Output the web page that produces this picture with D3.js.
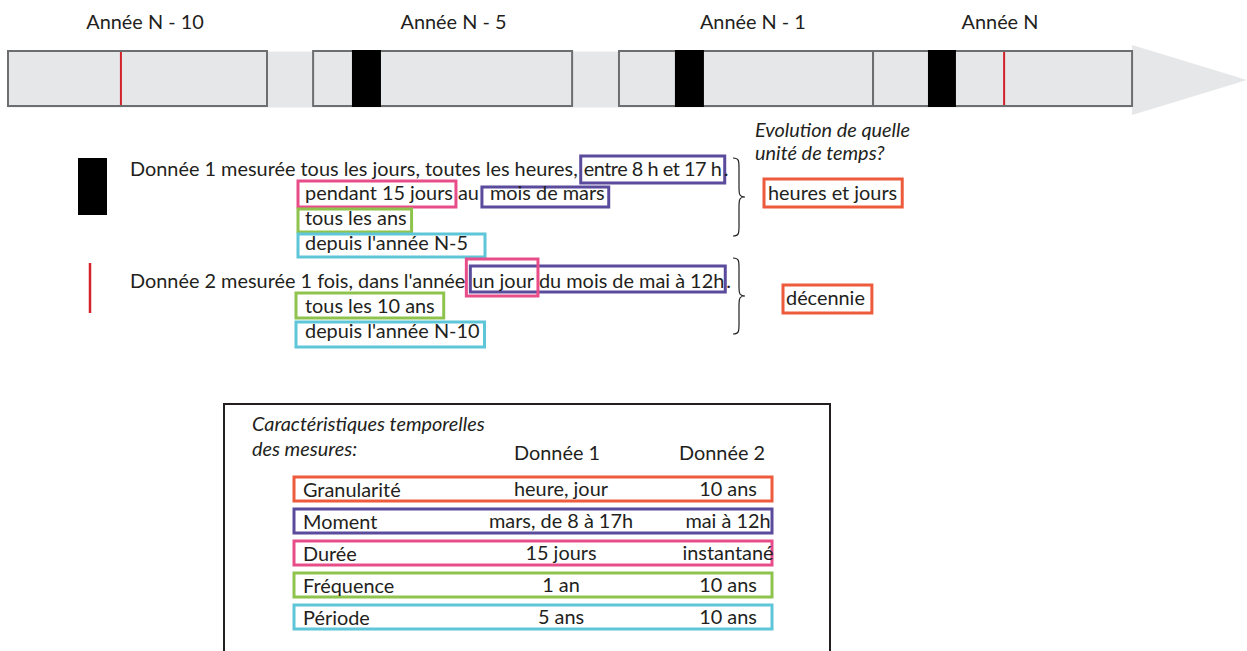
<!DOCTYPE html>
<html>
<head>
<meta charset="utf-8">
<script src="https://cdn.jsdelivr.net/npm/d3@7"></script>
<style>
  body { margin: 0; background: #fff; }
  text { font-family: Lato, "Noto Sans", sans-serif; fill: #231f20; }
</style>
</head>
<body>
<script>
const W = 1247, H = 651;

// timeline, one unit = one year box
const yearLabels = ["Année N - 10", "Année N - 5", "Année N - 1", "Année N"];
const yearStart = [0, 1.178, 2.359, 3.340];
const yearEnd = [1, 2.178, 3.340, 4.340];
const labelPos = [0.529, 1.720, 2.876, 3.830];
const d1Start = [1.328, 2.575, 3.552];   // Donnée 1 (black marks)
const d1End = [1.440, 2.687, 3.660];
const d2Pos = [0.436, 3.846];            // Donnée 2 (red marks)
const arrowTip = 4.784;

// table
const rowLabels = ["Granularité", "Moment", "Durée", "Fréquence", "Période"];
const donnee1 = ["heure, jour", "mars, de 8 à 17h", "15 jours", "1 an", "5 ans"];
const donnee2 = ["10 ans", "mai à 12h", "instantané", "10 ans", "10 ans"];

const col = {
  orange: "#ee5a3c", purple: "#5b4b9c", pink: "#e84d8a",
  green: "#8ec44d", cyan: "#5fc5d8"
};
const rowColors = [col.orange, col.purple, col.pink, col.green, col.cyan];

const svg = d3.select("body").append("svg")
  .attr("width", W).attr("height", H);

// font size fitted so the first sentence is as wide as in the picture
const probe = svg.append("text").style("font-size", "20px")
  .text("Donnée 1 mesurée tous les jours, toutes les heures,");
const fs = 20 * 448 / probe.node().getComputedTextLength();
probe.remove();

// ---- timeline
const x = d3.scaleLinear().domain([0, 1]).range([8, 267]);
const bandY0 = 51.5, bandY1 = 107.5, boxY0 = 51, boxY1 = 106;

svg.append("rect")
  .attr("x", x(0)).attr("y", bandY0)
  .attr("width", x(yearEnd[3]) - x(0)).attr("height", bandY1 - bandY0)
  .attr("fill", "#e6e7e8");
svg.append("path")
  .attr("d", d3.line()([[x(yearEnd[3]), 45], [x(arrowTip), 80], [x(yearEnd[3]), 115]]))
  .attr("fill", "#e6e7e8");

svg.selectAll(".year").data(yearLabels).join("rect")
  .attr("x", (d, i) => x(yearStart[i]))
  .attr("y", boxY0)
  .attr("width", (d, i) => x(yearEnd[i]) - x(yearStart[i]))
  .attr("height", boxY1 - boxY0)
  .attr("fill", "#e6e7e8").attr("stroke", "#6d6e70").attr("stroke-width", 2);

svg.selectAll(".ylab").data(yearLabels).join("text")
  .attr("x", (d, i) => x(labelPos[i])).attr("y", 29)
  .attr("text-anchor", "middle").style("font-size", fs + "px")
  .text(d => d);

svg.selectAll(".d1").data(d1Start).join("rect")
  .attr("x", d => x(d)).attr("y", boxY0 - 1)
  .attr("width", (d, i) => x(d1End[i]) - x(d))
  .attr("height", boxY1 - boxY0 + 2)
  .attr("fill", "#000");

svg.selectAll(".d2").data(d2Pos).join("line")
  .attr("x1", d => x(d)).attr("x2", d => x(d))
  .attr("y1", boxY0 + 1).attr("y2", boxY1 - 1)
  .attr("stroke", "#d2232a").attr("stroke-width", 2);

// ---- legend marks
svg.append("rect").attr("x", 78).attr("y", 158).attr("width", 29).attr("height", 57)
  .attr("fill", "#000");
svg.append("line").attr("x1", 90).attr("x2", 90).attr("y1", 263).attr("y2", 313)
  .attr("stroke", "#d2232a").attr("stroke-width", 2.5);

// ---- sentences with coloured boxes
const lines = [
  { x: 130, y: 176, segs: ["Donnée 1 mesurée tous les jours, toutes les heures,", "entre 8 h et 17 h", "."],
    gaps: [0, 6, 2], fit: [null, 138, null],
    boxes: [{ s: 1, e: 1, c: col.purple, l: 3, r: 3, t: 20, b: 7 }] },
  { x: 305, y: 200, segs: ["pendant 15 jours", "au", "mois de mars"],
    gaps: [0, 5, 11],
    boxes: [{ s: 0, e: 0, c: col.pink, l: 7, r: 3, t: 19, b: 7 },
            { s: 2, e: 2, c: col.purple, l: 8, r: 4, t: 13, b: 7 }] },
  { x: 305, y: 225, segs: ["tous les ans"], gaps: [0],
    boxes: [{ s: 0, e: 0, c: col.green, l: 7, r: 5, t: 16, b: 7 }] },
  { x: 305, y: 250, segs: ["depuis l'année N-5"], gaps: [0],
    boxes: [{ s: 0, e: 0, c: col.cyan, l: 7, r: 17, t: 16, b: 7 }] },
  { x: 130, y: 288, segs: ["Donnée 2 mesurée 1 fois, dans l'année", "un jour", "du mois de mai à 12h", "."],
    gaps: [0, 7, 5, 2],
    boxes: [{ s: 1, e: 2, c: col.purple, l: 2, r: 1, t: 22, b: 4 },
            { s: 1, e: 1, c: col.pink, l: 6, r: 4, t: 29, b: 8 }] },
  { x: 305, y: 313, segs: ["tous les 10 ans"], gaps: [0],
    boxes: [{ s: 0, e: 0, c: col.green, l: 9, r: 9, t: 20, b: 5 }] },
  { x: 305, y: 338, segs: ["depuis l'année N-10"], gaps: [0],
    boxes: [{ s: 0, e: 0, c: col.cyan, l: 9, r: 5, t: 16, b: 9 }] },
  { x: 768, y: 200, segs: ["heures et jours"], gaps: [0],
    boxes: [{ s: 0, e: 0, c: col.orange, l: 4, r: 5, t: 21, b: 7 }] },
  { x: 786, y: 305, segs: ["décennie"], gaps: [0],
    boxes: [{ s: 0, e: 0, c: col.orange, l: 3, r: 7, t: 20, b: 8 }] }
];

const boxLayer = svg.append("g");
const textLayer = svg.append("g").style("font-size", fs + "px");

lines.forEach(line => {
  let cx = line.x;
  const pos = line.segs.map((s, i) => {
    cx += line.gaps[i];
    const t = textLayer.append("text").attr("x", cx).attr("y", line.y).text(s);
    const target = line.fit && line.fit[i];
    if (target) t.attr("textLength", target).attr("lengthAdjust", "spacing");
    const w = target || t.node().getComputedTextLength();
    const p = [cx, cx + w];
    cx += w;
    return p;
  });
  line.boxes.forEach(b => {
    const x0 = pos[b.s][0] - b.l, x1 = pos[b.e][1] + b.r;
    boxLayer.append("rect")
      .attr("x", x0).attr("y", line.y - b.t)
      .attr("width", x1 - x0).attr("height", b.t + b.b)
      .attr("fill", "none").attr("stroke", b.c).attr("stroke-width", 3);
  });
});

// braces
function brace(bx, y0, y1, w) {
  const m = (y0 + y1) / 2, h = bx + w / 2;
  return `M${bx},${y0} C${h},${y0} ${h},${y0 + 3} ${h},${y0 + 10} L${h},${m - 8}` +
    ` C${h},${m - 2} ${h + 1},${m} ${bx + w},${m} C${h + 1},${m} ${h},${m + 2} ${h},${m + 8}` +
    ` L${h},${y1 - 10} C${h},${y1 - 3} ${h},${y1} ${bx},${y1}`;
}
svg.append("path").attr("d", brace(733, 158, 236, 12))
  .attr("fill", "none").attr("stroke", "#231f20").attr("stroke-width", 1.2);
svg.append("path").attr("d", brace(733, 258, 334, 12))
  .attr("fill", "none").attr("stroke", "#231f20").attr("stroke-width", 1.2);

// question
svg.append("text").attr("x", 755).attr("y", 137).style("font-size", fs + "px")
  .style("font-style", "italic").text("Evolution de quelle");
svg.append("text").attr("x", 755).attr("y", 160).style("font-size", fs + "px")
  .style("font-style", "italic").text("unité de temps?");

// ---- table
svg.append("rect").attr("x", 224).attr("y", 404).attr("width", 606).attr("height", 260)
  .attr("fill", "none").attr("stroke", "#231f20").attr("stroke-width", 2);
svg.append("text").attr("x", 252).attr("y", 431).style("font-size", fs + "px")
  .style("font-style", "italic").text("Caractéristiques temporelles");
svg.append("text").attr("x", 252).attr("y", 456).style("font-size", fs + "px")
  .style("font-style", "italic").text("des mesures:");

const colX = { label: 303, d1: 561, d2: 728 };
svg.append("text").attr("x", 557).attr("y", 460).attr("text-anchor", "middle")
  .style("font-size", fs + "px").text("Donnée 1");
svg.append("text").attr("x", 722).attr("y", 460).attr("text-anchor", "middle")
  .style("font-size", fs + "px").text("Donnée 2");

const ry = d3.scaleLinear().domain([0, 4]).range([476, 604]);
const rows = svg.append("g").style("font-size", fs + "px");
rows.selectAll("rect").data(rowLabels).join("rect")
  .attr("x", 294).attr("y", (d, i) => ry(i) + 1)
  .attr("width", 478).attr("height", 24)
  .attr("fill", "none").attr("stroke", (d, i) => rowColors[i]).attr("stroke-width", 3);
rows.selectAll(".lab").data(rowLabels).join("text")
  .attr("x", colX.label).attr("y", (d, i) => ry(i) + 21).text(d => d);
rows.selectAll(".v1").data(donnee1).join("text")
  .attr("x", colX.d1).attr("y", (d, i) => ry(i) + 20)
  .attr("text-anchor", "middle").text(d => d);
rows.selectAll(".v2").data(donnee2).join("text")
  .attr("x", colX.d2).attr("y", (d, i) => ry(i) + 20)
  .attr("text-anchor", "middle").text(d => d);
</script>
</body>
</html>
